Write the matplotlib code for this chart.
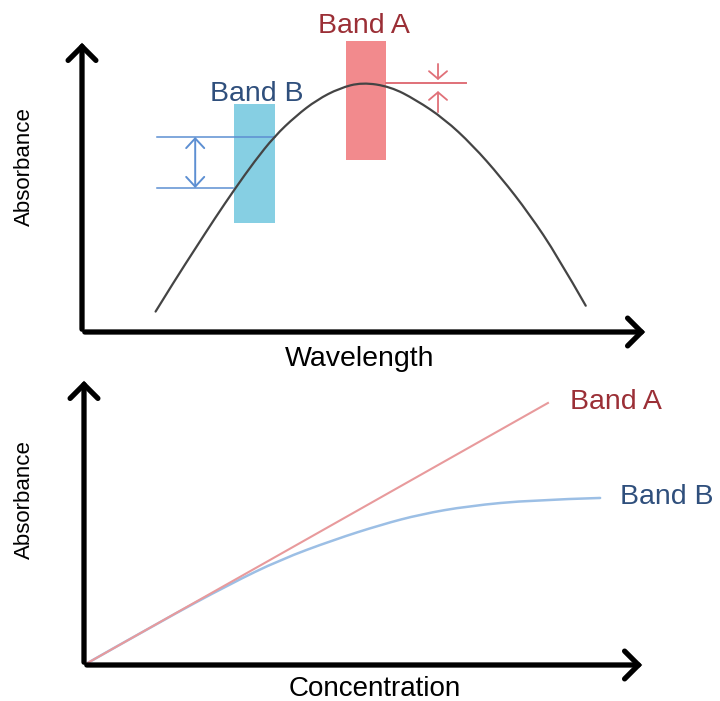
import numpy as np
import matplotlib
matplotlib.use("Agg")
import matplotlib.pyplot as plt
from matplotlib.patches import FancyArrowPatch, Rectangle, PathPatch
from matplotlib.path import Path

plt.rcParams['font.family'] = ['Liberation Sans', 'DejaVu Sans']

# Espectro de absorção (unidades arbitrárias, 0-100)
wavelength = [13, 16.5, 20, 23.5, 27, 30.5, 34, 37.8, 41.5, 45.5, 49.5, 54.5, 59, 64, 69, 74, 79, 84, 89]
absorb_spec = [7, 18, 28.5, 39, 49, 58.5, 67, 74, 79.5, 83.5, 85.5, 84, 79.5, 73, 64, 53, 40.5, 26, 9]

# Bandas (centro, largura, faixa vertical)
band_b_center, band_b_width = 30.5, 7.2
band_b_y = (37.3, 78.1)
band_a_center, band_a_width = 50.2, 7.0
band_a_y = (58.9, 99.7)

# Variação de absorbância dentro de cada banda
band_b_levels = (49.3, 66.8)
band_b_ends = (26.7, 34.1)
band_a_peak = 85.3
band_a_tips = (86.3, 82.5)

# Curva de calibração
conc_a = [0, 82.7]
abs_a = [0, 91.3]
conc_b = [0, 13.5, 26, 35, 44.5, 53, 60, 68.5, 80, 92]
abs_b = [0, 15, 28.2, 36.7, 43.6, 48.9, 52.5, 55.4, 57.5, 58.2]

cor_a_fill = '#f28a8d'
cor_b_fill = '#86cfe3'
cor_a_txt = '#9b2f36'
cor_b_txt = '#2f4f7c'
cor_a_line = '#e07078'
cor_b_line = '#5d8fd2'


def eixos(ax):
    ax.set_xlim(0, 100)
    ax.set_ylim(0, 100)
    ax.axis('off')
    for fim in [(100, 0), (0, 100)]:
        seta = FancyArrowPatch((0, 0), fim, arrowstyle='->,head_length=0.5,head_width=0.5',
                               mutation_scale=20, lw=3.8, color='black',
                               capstyle='round', joinstyle='miter', clip_on=False, zorder=5)
        ax.add_patch(seta)


def curva_suave(ax, xs, ys, **kw):
    # pontos lidos viram pontos de controle de beziers quadraticas
    pts = np.column_stack([xs, ys])
    verts = [pts[0]]
    codes = [Path.MOVETO]
    for i in range(1, len(pts) - 1):
        meio = (pts[i] + pts[i + 1]) / 2 if i < len(pts) - 2 else pts[i + 1]
        verts += [pts[i], meio]
        codes += [Path.CURVE3, Path.CURVE3]
    ax.add_patch(PathPatch(Path(verts, codes), fill=False, capstyle='round', **kw))


fig = plt.figure(figsize=(7.2, 7.01), dpi=100)

# Painel superior: espectro
ax1 = fig.add_axes([82 / 720, 369 / 701, 566 / 720, 292 / 701])
eixos(ax1)

ax1.add_patch(Rectangle((band_b_center - band_b_width / 2, band_b_y[0]), band_b_width,
                        band_b_y[1] - band_b_y[0], color=cor_b_fill, lw=0, zorder=1))
ax1.add_patch(Rectangle((band_a_center - band_a_width / 2, band_a_y[0]), band_a_width,
                        band_a_y[1] - band_a_y[0], color=cor_a_fill, lw=0, zorder=1, clip_on=False))
curva_suave(ax1, wavelength, absorb_spec, edgecolor='#444444', lw=1.6, zorder=3)

# Linhas e seta da banda B
x_esq = 13.3
ax1.plot([x_esq, band_b_ends[0]], [band_b_levels[0]] * 2, color=cor_b_line, lw=1.1, zorder=2)
ax1.plot([x_esq, band_b_ends[1]], [band_b_levels[1]] * 2, color=cor_b_line, lw=1.1, zorder=2)
ax1.add_patch(FancyArrowPatch((20, band_b_levels[0]), (20, band_b_levels[1]),
                              arrowstyle='<->,head_length=0.7,head_width=0.65',
                              mutation_scale=10, lw=1.4, color=cor_b_line,
                              shrinkA=0, shrinkB=0, zorder=4))

# Linha e setas da banda A
ax1.plot([band_a_center + band_a_width / 2, 67.8], [band_a_peak] * 2, color=cor_a_line, lw=1.4, zorder=2)
ax1.add_patch(FancyArrowPatch((62.9, 91.8), (62.9, band_a_tips[0]),
                              arrowstyle='->,head_length=0.55,head_width=0.65',
                              mutation_scale=10, lw=1.3, color=cor_a_line,
                              shrinkA=0, shrinkB=0, clip_on=False, zorder=4))
ax1.add_patch(FancyArrowPatch((62.9, 75.3), (62.9, band_a_tips[1]),
                              arrowstyle='->,head_length=0.55,head_width=0.65',
                              mutation_scale=10, lw=1.3, color=cor_a_line,
                              shrinkA=0, shrinkB=0, clip_on=False, zorder=4))

ax1.text(30.9, 81.5, 'Band B', color=cor_b_txt, fontsize=20.5, ha='center', va='center')
ax1.text(49.8, 104.8, 'Band A', color=cor_a_txt, fontsize=20.5, ha='center', va='center', clip_on=False)
ax1.text(0.491, -0.118, 'Wavelength', transform=ax1.transAxes, fontsize=20.5, ha='center', va='baseline')
ax1.text(-0.1025, 0.568, 'Absorbance', transform=ax1.transAxes, fontsize=16, ha='center',
         va='center', rotation=90)

# Painel inferior: absorbância x concentração
ax2 = fig.add_axes([84 / 720, 36 / 701, 561 / 720, 287 / 701])
eixos(ax2)
ax2.plot(conc_a, abs_a, color='#e89a9c', lw=1.5, zorder=3)
curva_suave(ax2, conc_b, abs_b, edgecolor='#9cbfe5', lw=1.8, zorder=2)
ax2.text(86.6, 91.6, 'Band A', color=cor_a_txt, fontsize=20.5, ha='left', va='center')
ax2.text(95.5, 58.5, 'Band B', color=cor_b_txt, fontsize=20.5, ha='left', va='center', clip_on=False)
ax2.text(0.519, -0.108, 'Concentration', transform=ax2.transAxes, fontsize=20, ha='center', va='baseline')
ax2.text(-0.107, 0.578, 'Absorbance', transform=ax2.transAxes, fontsize=16, ha='center',
         va='center', rotation=90)

fig.savefig('out.png', dpi=100)
